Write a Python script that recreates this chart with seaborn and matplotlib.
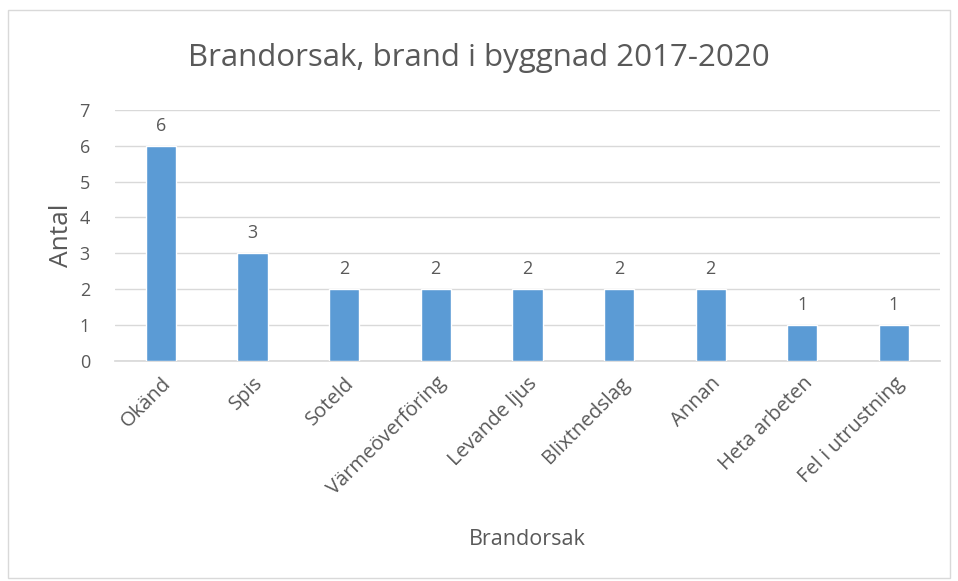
import matplotlib
matplotlib.use("Agg")
import matplotlib.pyplot as plt
import matplotlib.patches as mpatches
import seaborn as sns
import pandas as pd

orsaker = ["Okänd", "Spis", "Soteld", "Värmeöverföring", "Levande ljus",
           "Blixtnedslag", "Annan", "Heta arbeten", "Fel i utrustning"]
antal = [6, 3, 2, 2, 2, 2, 2, 1, 1]

df = pd.DataFrame({"Brandorsak": orsaker, "Antal": antal})

sns.set_theme(style="white")
plt.rcParams['font.family'] = ['Open Sans', 'DejaVu Sans']
text_col = "#595959"

fig = plt.figure(figsize=(9.58, 5.81), dpi=100)
ax = fig.add_axes([0.12, 0.379, 0.861, 0.432])

sns.barplot(data=df, x="Brandorsak", y="Antal", color="#5B9BD5",
            width=0.33, saturation=1, ax=ax, zorder=3)

for i, v in enumerate(antal):
    ax.text(i, v + 0.3, str(v), ha="center", va="bottom", fontsize=13, color=text_col)

ax.set_ylim(0, 7)
ax.set_xlim(-0.5, len(orsaker) - 0.5)
ax.set_yticks(range(0, 8))
ax.yaxis.grid(True, color="#D9D9D9", linewidth=1, zorder=0)
ax.tick_params(axis="both", length=0, colors=text_col)
ax.tick_params(axis="y", pad=18, labelsize=13)
ax.tick_params(axis="x", pad=9, labelsize=14.5)
ax.set_xticks(range(len(orsaker)))
ax.set_xticklabels(orsaker, rotation=45, ha="right", rotation_mode="anchor")

for s in ["top", "right", "left"]:
    ax.spines[s].set_visible(False)
ax.spines["bottom"].set_color("#D9D9D9")

ax.set_xlabel("Brandorsak", fontsize=15.5, color=text_col, labelpad=0)
ax.xaxis.set_label_coords(0.5, -0.67)
ax.set_ylabel("Antal", fontsize=19, color=text_col)
ax.yaxis.set_label_coords(-0.05, 0.5)

fig.text(0.5, 0.9, "Brandorsak, brand i byggnad 2017-2020", ha="center", va="center",
         fontsize=22.5, color=text_col)

fig.patches.append(mpatches.Rectangle((0.008, 0.005), 0.984, 0.978, transform=fig.transFigure,
                                      fill=False, edgecolor="#D9D9D9", linewidth=1))

fig.savefig("out.png", dpi=100, facecolor="white")
